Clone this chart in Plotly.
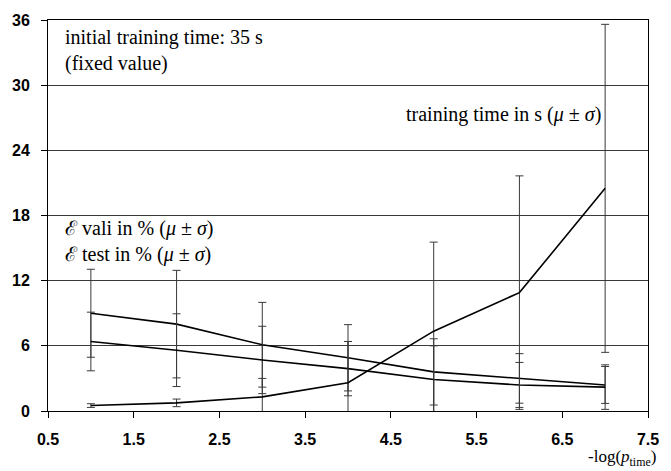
import plotly.graph_objects as go

# -log(p_time) settings
x_vals = [1, 2, 3, 4, 5, 6, 7]

# validation error in %
vali_mean = [9.0, 8.0, 6.1, 4.9, 3.6, 3.0, 2.4]
vali_sd = [4.05, 4.95, 3.9, 3.05, 3.05, 2.28, 1.7]

# test error in %
test_mean = [6.4, 5.6, 4.7, 3.9, 2.9, 2.4, 2.2]
test_sd = [2.7, 3.35, 3.1, 2.5, 3.1, 2.07, 2.05]

# training time in s
time_mean = [0.5, 0.75, 1.3, 2.6, 7.35, 10.9, 20.5]
time_sd = [0.17, 0.35, 1.7, 3.8, 8.2, 10.75, 15.1]

y_ticks = [0, 6, 12, 18, 24, 30, 36]
x_ticks = [0.5, 1.5, 2.5, 3.5, 4.5, 5.5, 6.5, 7.5]

serif = "Liberation Serif, Times New Roman, serif"
sans = "Liberation Sans, Arial, sans-serif"

fig = go.Figure()

for mean, sd in [(vali_mean, vali_sd), (test_mean, test_sd), (time_mean, time_sd)]:
    fig.add_trace(go.Scatter(
        x=x_vals, y=mean, mode="lines",
        line=dict(color="black", width=1.6),
        error_y=dict(type="data", array=sd, visible=True,
                     color="#3a3a3a", thickness=1, width=4),
        showlegend=False, hoverinfo="skip",
    ))

fig.add_annotation(
    x=0.67, y=33.2, xref="x", yref="y", xanchor="left", yanchor="middle",
    text="initial training time: 35 s<br>(fixed value)", showarrow=False,
    align="left", font=dict(family=serif, size=20, color="black"),
)
fig.add_annotation(
    x=6.97, y=27.3, xref="x", yref="y", xanchor="right", yanchor="middle",
    text="training time in s (<i>μ</i> ± <i>σ</i>)", showarrow=False,
    font=dict(family=serif, size=20, color="black"),
)
fig.add_annotation(
    x=0.67, y=15.6, xref="x", yref="y", xanchor="left", yanchor="middle",
    text="ℰ vali in % (<i>μ</i> ± <i>σ</i>)<br>ℰ test in % (<i>μ</i> ± <i>σ</i>)",
    showarrow=False, align="left",
    font=dict(family=serif, size=20, color="black"),
)
fig.add_annotation(
    x=1, y=0, xref="paper", yref="paper", xanchor="right", yanchor="top",
    xshift=10, yshift=-34,
    text="-log(<i>p</i><sub>time</sub>)", showarrow=False,
    font=dict(family=serif, size=17, color="black"),
)

fig.update_layout(
    width=671, height=471,
    margin=dict(l=47, r=13, t=17, b=60),
    paper_bgcolor="white", plot_bgcolor="white",
    xaxis=dict(
        range=[0.5, 7.5], tickvals=x_ticks, ticktext=[str(v) for v in x_ticks],
        showgrid=False, zeroline=False, showline=True, linecolor="black",
        linewidth=1, mirror=True, ticks="outside", ticklen=6, tickcolor="black",
        tickfont=dict(family=sans, size=16, color="black", weight="bold"),
        ticklabelstandoff=8,
    ),
    yaxis=dict(
        range=[0, 36], tickvals=y_ticks,
        showgrid=True, gridcolor="#3a3a3a", gridwidth=1,
        zeroline=False, showline=True, linecolor="black", linewidth=1,
        mirror=True, ticks="outside", ticklen=6, tickcolor="black",
        tickfont=dict(family=sans, size=16, color="black", weight="bold"),
        ticklabelstandoff=8,
    ),
)

fig.write_html("out.html")
